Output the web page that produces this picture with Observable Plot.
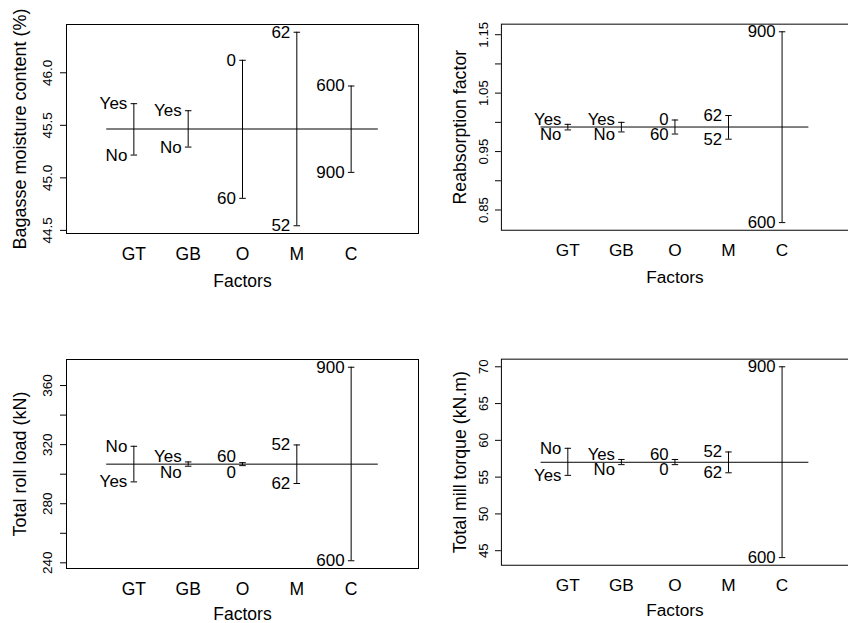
<!DOCTYPE html>
<html><head><meta charset="utf-8">
<script src="https://cdn.jsdelivr.net/npm/d3@7"></script>
<script src="https://cdn.jsdelivr.net/npm/@observablehq/plot@0.6"></script>
<style>
html,body{margin:0;padding:0;background:#fff;overflow:hidden;width:848px;height:623px;}
#wrap{position:relative;width:848px;height:623px;overflow:hidden;background:#fff;}
.panel{position:absolute;}
</style></head><body><div id="wrap"></div>
<script>
// ---- data ----
const factors = ["GT", "GB", "O", "M", "C"];
const levelNames = [["No", "Yes"], ["No", "Yes"], ["0", "60"], ["52", "62"], ["600", "900"]];

const moisture     = [[45.217, 45.706], [45.293, 45.639], [46.119, 44.805], [44.544, 46.386], [45.874, 45.052]];
const reabsorption = [[0.987, 0.9966], [0.9836, 1.000], [1.004, 0.980], [0.9712, 1.0117], [0.8284, 1.155]];
const rollLoad     = [[318.9, 294.8], [305.4, 308.3], [305.8, 307.8], [319.8, 293.7], [241.4, 372.4]];
const millTorque   = [[58.92, 55.24], [56.7, 57.4], [56.7, 57.4], [58.42, 55.59], [44.06, 70.0]];

const grandMeans = [45.465, 0.992, 306.8, 57.02];
const yTitles = ["Bagasse moisture content (%)", "Reabsorption factor", "Total roll load (kN)", "Total mill torque (kN.m)"];

const yTicks1 = [44.5, 45.0, 45.5, 46.0];
const yTickLabels1 = [44.5, 45.0, 45.5, 46.0];
const yTicks2 = [0.85, 0.90, 0.95, 1.00, 1.05, 1.10, 1.15];
const yTickLabels2 = [0.85, 0.95, 1.05, 1.15];
const yTicks3 = [240, 260, 280, 300, 320, 340, 360];
const yTickLabels3 = [240, 280, 320, 360];
const yTicks4 = [45, 50, 55, 60, 65, 70];
const yTickLabels4 = [45, 50, 55, 60, 65, 70];
const xTitle = "Factors";

// ---- layout ----
const FONT = "'Liberation Sans', Arial, Helvetica, sans-serif";
const boxH = 209;

function makePanel(values, mean, title, ticks, tickLabels, fmt, lay) {
  // R-style range extension: 4% each side
  const all = values.flat();
  const lo = d3.min(all), hi = d3.max(all), ext = (hi - lo) * 0.04;
  const yDomain = [lo - ext, hi + ext];
  const nf = factors.length;
  const xDomain = [0 - (nf + 1) * 0.04, nf + 1 + (nf + 1) * 0.04];
  const ppu = boxH / (yDomain[1] - yDomain[0]);
  const minGap = 16;

  const rows = [];
  const segs = [];
  values.forEach((vals, i) => {
    const f = i + 1;
    const vlo = Math.min(...vals), vhi = Math.max(...vals);
    segs.push({f, lo: vlo, hi: vhi});
    const mid = (vlo + vhi) / 2;
    const tight = (vhi - vlo) * ppu < minGap;
    vals.forEach((v, j) => {
      let ly = v;
      if (tight) ly = v === vhi ? mid + minGap / 2 / ppu : mid - minGap / 2 / ppu;
      rows.push({f, value: v, labelY: ly, level: levelNames[i][j]});
    });
  });

  const svg = Plot.plot({
    width: lay.width,
    height: lay.mt + boxH + lay.mb,
    marginLeft: lay.ml, marginRight: lay.mr, marginTop: lay.mt, marginBottom: lay.mb,
    style: {fontFamily: FONT, color: "black", background: "transparent", overflow: "visible"},
    x: {domain: xDomain, axis: null},
    y: {domain: yDomain, axis: null},
    marks: [
      Plot.frame({stroke: "black", strokeWidth: 1}),
      Plot.axisY(ticks, {anchor: "left", tickSize: 6, tickFormat: () => "", label: null, stroke: "black"}),
      Plot.text(tickLabels, {y: d => d, text: d => fmt(d), frameAnchor: "left", rotate: -90,
        textAnchor: "middle", lineAnchor: "bottom", dx: lay.tickDx, fontSize: 13.5, fill: "black"}),
      Plot.text([title], {frameAnchor: "left", rotate: -90, textAnchor: "middle", lineAnchor: "bottom",
        dx: lay.titleDx, fontSize: 18, fill: "black"}),
      Plot.ruleY([mean], {x1: 0.5, x2: nf + 0.5, stroke: "black", strokeWidth: 1}),
      Plot.ruleX(segs, {x: "f", y1: "lo", y2: "hi", stroke: "black", strokeWidth: 1}),
      Plot.link(rows, {x1: d => d.f - 0.06, x2: d => d.f + 0.06, y1: "value", y2: "value", stroke: "black", strokeWidth: 1}),
      Plot.text(rows, {x: "f", y: "labelY", text: "level", textAnchor: "end", lineAnchor: "middle",
        dx: -6.5, fontSize: 17, fill: "black"}),
      Plot.text(factors, {x: (d, i) => i + 1, text: d => d, frameAnchor: "bottom", lineAnchor: "bottom",
        dy: 26, fontSize: 17.5, fill: "black"}),
      Plot.text([xTitle], {frameAnchor: "bottom", lineAnchor: "bottom", dy: lay.xTitleDy, fontSize: 17.5, fill: "black"})
    ]
  });
  const div = document.createElement("div");
  div.className = "panel";
  div.style.left = lay.left + "px";
  div.style.top = lay.top + "px";
  div.appendChild(svg);
  document.getElementById("wrap").appendChild(div);
}

const layL = {width: 424, ml: 66, mr: 6, mt: 24, mb: 67, tickDx: -15, titleDx: -41};
const layR = {width: 430, ml: 78, mr: 0, mt: 24, mb: 67, tickDx: -13.5, titleDx: -36};

makePanel(moisture, grandMeans[0], yTitles[0], yTicks1, yTickLabels1, d3.format(".1f"), {...layL, left: 0, top: 0, xTitleDy: 53.5});
makePanel(reabsorption, grandMeans[1], yTitles[1], yTicks2, yTickLabels2, d3.format(".2f"), {...layR, left: 424, top: 0, xTitleDy: 53.5});
makePanel(rollLoad, grandMeans[2], yTitles[2], yTicks3, yTickLabels3, d3.format("d"), {...layL, left: 0, top: 335, xTitleDy: 51});
makePanel(millTorque, grandMeans[3], yTitles[3], yTicks4, yTickLabels4, d3.format("d"), {...layR, left: 424, top: 335, xTitleDy: 51});
</script>
</body></html>
